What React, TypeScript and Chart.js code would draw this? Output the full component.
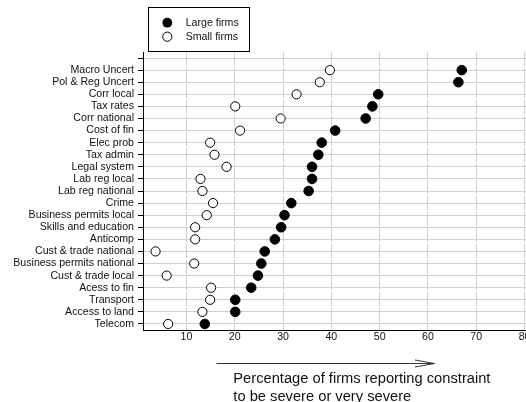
import React, { useEffect, useRef } from "react";
import { Chart, registerables } from "chart.js";

Chart.register(...registerables);

const categories = [
  "Macro Uncert",
  "Pol & Reg Uncert",
  "Corr local",
  "Tax rates",
  "Corr national",
  "Cost of fin",
  "Elec prob",
  "Tax admin",
  "Legal system",
  "Lab reg local",
  "Lab reg national",
  "Crime",
  "Business permits local",
  "Skills and education",
  "Anticomp",
  "Cust & trade national",
  "Business permits national",
  "Cust & trade local",
  "Acess to fin",
  "Transport",
  "Access to land",
  "Telecom",
];

const largeFirms = [
  67.0, 66.3, 49.7, 48.5, 47.1, 40.8, 38.0, 37.3, 36.0, 36.0, 35.3, 31.7, 30.3,
  29.6, 28.3, 26.2, 25.5, 24.8, 23.4, 20.1, 20.1, 13.8,
];

const smallFirms = [
  39.7, 37.6, 32.8, 20.1, 29.5, 21.1, 14.9, 15.8, 18.3, 12.9, 13.3, 15.5, 14.2,
  11.8, 11.8, 3.6, 11.6, 5.9, 15.1, 14.9, 13.3, 6.2,
];

const xTicks = [10, 20, 30, 40, 50, 60, 70, 80];

const legendLabels = ["Large firms", "Small firms"];
const axisTitleLines = [
  "Percentage of firms reporting constraint",
  "to be severe or very severe",
];

const FONT = "'Liberation Sans', Arial, sans-serif";

export default function App() {
  const ref = useRef<HTMLCanvasElement | null>(null);

  useEffect(() => {
    if (!ref.current) return;
    const n = categories.length;
    const toPoints = (arr: number[]) =>
      arr.map((v, i) => ({ x: v, y: n - i }));

    const decor = {
      id: "decor",
      afterDraw(chart: any) {
        const ctx = chart.ctx as CanvasRenderingContext2D;
        ctx.save();
        // legend box
        ctx.strokeStyle = "#000";
        ctx.lineWidth = 1;
        ctx.strokeRect(148.5, 7.5, 101, 44);
        ctx.beginPath();
        ctx.arc(167.3, 22.7, 4.9, 0, Math.PI * 2);
        ctx.fillStyle = "#000";
        ctx.fill();
        ctx.beginPath();
        ctx.arc(167.3, 36.7, 4.6, 0, Math.PI * 2);
        ctx.fillStyle = "#fff";
        ctx.fill();
        ctx.stroke();
        ctx.fillStyle = "#111";
        ctx.font = `10.6px ${FONT}`;
        ctx.textBaseline = "middle";
        ctx.textAlign = "left";
        ctx.fillText(legendLabels[0], 185.7, 22.7);
        ctx.fillText(legendLabels[1], 185.7, 36.7);

        // arrow
        ctx.strokeStyle = "#333";
        ctx.beginPath();
        ctx.moveTo(216.5, 363.5);
        ctx.lineTo(434.5, 363.5);
        ctx.moveTo(415, 360);
        ctx.lineTo(434.5, 363.5);
        ctx.lineTo(415, 367);
        ctx.stroke();

        // axis title
        ctx.fillStyle = "#111";
        ctx.font = `14.7px ${FONT}`;
        ctx.textBaseline = "alphabetic";
        ctx.fillText(axisTitleLines[0], 233.3, 383.3);
        ctx.fillText(axisTitleLines[1], 233.3, 400.5);
        ctx.restore();
      },
    };

    const chart = new Chart(ref.current, {
      type: "scatter",
      data: {
        datasets: [
          {
            label: legendLabels[0],
            data: toPoints(largeFirms),
            pointStyle: "circle",
            pointRadius: 4.8,
            pointBackgroundColor: "#000",
            pointBorderColor: "#000",
            pointBorderWidth: 1,
          },
          {
            label: legendLabels[1],
            data: toPoints(smallFirms),
            pointStyle: "circle",
            pointRadius: 4.6,
            pointBackgroundColor: "#fff",
            pointBorderColor: "#000",
            pointBorderWidth: 1,
          },
        ],
      },
      options: {
        responsive: false,
        animation: false,
        devicePixelRatio: 1,
        layout: { padding: { top: 52, left: 0, right: 0, bottom: 0 } },
        plugins: {
          legend: { display: false },
          tooltip: { enabled: false },
          title: { display: false },
        },
        scales: {
          x: {
            type: "linear",
            min: 1,
            max: 82,
            afterBuildTicks: (axis: any) => {
              axis.ticks = xTicks.map((v) => ({ value: v }));
            },
            afterFit: (axis: any) => {
              axis.height = 72;
              axis.paddingLeft = 0;
              axis.paddingRight = 0;
            },
            grid: {
              color: "#cfcfcf",
              lineWidth: 1,
              drawTicks: false,
            },
            border: { color: "#000", width: 1, dash: [14, 2] },
            ticks: {
              color: "#111",
              font: { family: FONT, size: 10.6 },
              padding: 1,
              maxRotation: 0,
              autoSkip: false,
            },
          },
          y: {
            type: "linear",
            min: 0.5,
            max: n + 1.5,
            afterBuildTicks: (axis: any) => {
              const t = [];
              for (let v = 1; v <= n + 1; v++) t.push({ value: v });
              axis.ticks = t;
            },
            afterFit: (axis: any) => {
              axis.width = 143;
              axis.paddingTop = 0;
              axis.paddingBottom = 0;
            },
            grid: {
              color: "#cfcfcf",
              lineWidth: 1,
              drawTicks: true,
              tickLength: 5,
              tickColor: "#000",
            },
            border: { color: "#000", width: 1 },
            ticks: {
              color: "#111",
              font: { family: FONT, size: 10.6 },
              padding: 4,
              autoSkip: false,
              callback: (value: any) => {
                const idx = n - Number(value);
                return idx >= 0 && idx < n ? categories[idx] : "";
              },
            },
          },
        },
      },
      plugins: [decor],
    } as any);

    return () => chart.destroy();
  }, []);

  return (
    <div
      style={{
        position: "fixed",
        left: 0,
        top: 0,
        width: 526,
        height: 402,
        overflow: "hidden",
        background: "#fff",
      }}
    >
      <canvas
        ref={ref}
        width={540}
        height={402}
        style={{ display: "block", width: 540, height: 402 }}
      />
    </div>
  );
}
